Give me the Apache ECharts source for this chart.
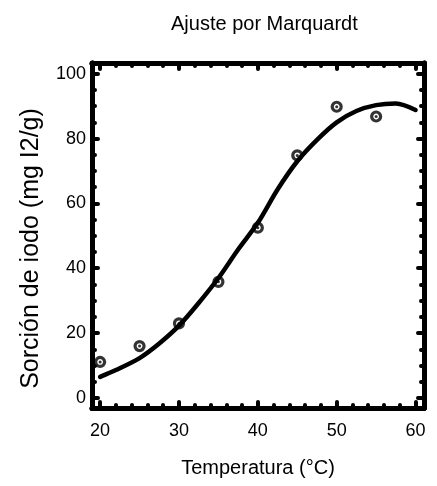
<!DOCTYPE html>
<html>
<head>
<meta charset="utf-8">
<script src="https://cdn.jsdelivr.net/npm/echarts@6/dist/echarts.min.js"></script>
<style>html,body{margin:0;padding:0;background:#fff;}#c{width:437px;height:486px;}</style>
</head>
<body>
<div id="c"></div>
<script>
const xMajorTicks = [20, 30, 40, 50, 60];
const xMinorTicks = [22, 24, 26, 28, 32, 34, 36, 38, 42, 44, 46, 48, 52, 54, 56, 58];
const yMajorTicks = [0, 20, 40, 60, 80, 100];
const yMinorTicks = [5, 10, 15, 25, 30, 35, 45, 50, 55, 65, 70, 75, 85, 90, 95];
const tempObs = [20, 25, 30, 35, 40, 45, 50, 55];
const sorcionObs = [11.1, 16.0, 23.0, 35.8, 52.5, 74.8, 89.8, 86.8];
const tempFit = [20, 22, 25, 27.5, 30, 32.5, 35, 37.5, 40, 42.5, 45, 47.5, 50, 52.5, 55, 57.5, 60];
const sorcionFit = [6.5, 8.6, 12.3, 16.8, 22.3, 29.3, 37.0, 45.8, 54.0, 64.3, 73.0, 79.6, 85.0, 88.5, 90.3, 90.8, 88.8];

const FONT = '"Liberation Sans", Arial, sans-serif';
const X_MIN = 18.97, X_MAX = 61.07, Y_MIN = -3.1, Y_MAX = 103.3;

function xAx(pos, ticks, len, labels, name) {
  return {
    type: 'value', position: pos, min: X_MIN, max: X_MAX,
    axisLine: { show: true, onZero: false, lineStyle: { color: '#000', width: 5 } },
    splitLine: { show: false },
    axisTick: { show: true, inside: true, length: len, customValues: ticks,
      lineStyle: { color: '#000', width: 4, cap: 'round' } },
    axisLabel: labels ? { show: true, customValues: xMajorTicks, color: '#000', fontSize: 18,
      fontFamily: FONT, margin: 14 } : { show: false },
    name: name || '', nameLocation: 'middle', nameGap: 50,
    nameTextStyle: { color: '#000', fontSize: 20, fontFamily: FONT }
  };
}
function yAx(pos, ticks, len, labels, name) {
  return {
    type: 'value', position: pos, min: Y_MIN, max: Y_MAX,
    axisLine: { show: true, onZero: false, lineStyle: { color: '#000', width: 5 } },
    splitLine: { show: false },
    axisTick: { show: true, inside: true, length: len, customValues: ticks,
      lineStyle: { color: '#000', width: 4, cap: 'round' } },
    axisLabel: labels ? { show: true, customValues: yMajorTicks, color: '#000', fontSize: 18,
      fontFamily: FONT, margin: 6 } : { show: false },
    name: name || '', nameLocation: 'middle', nameGap: 48, nameRotate: 90,
    nameTextStyle: { color: '#000', fontSize: 25, fontFamily: FONT, padding: [0, 0, 0, -26] }
  };
}

const chart = echarts.init(document.getElementById('c'), null, { renderer: 'canvas' });
chart.setOption({
  backgroundColor: '#fff',
  animation: false,
  title: {
    text: 'Ajuste por Marquardt', left: 166, top: 9,
    textStyle: { color: '#000', fontSize: 20, fontWeight: 'normal', fontFamily: FONT }
  },
  grid: { left: 92, right: 13, top: 63, bottom: 78 },
  xAxis: [
    xAx('bottom', xMajorTicks, 6, true, 'Temperatura (°C)'),
    xAx('bottom', xMinorTicks, 3, false),
    xAx('top', xMajorTicks, 6, false),
    xAx('top', xMinorTicks, 3, false)
  ],
  yAxis: [
    yAx('left', yMajorTicks, 6, true, 'Sorción de iodo (mg I2/g)'),
    yAx('left', yMinorTicks, 3, false),
    yAx('right', yMajorTicks, 6, false),
    yAx('right', yMinorTicks, 3, false)
  ],
  series: [
    {
      type: 'line', xAxisIndex: 0, yAxisIndex: 0,
      data: tempFit.map((t, i) => [t, sorcionFit[i]]),
      showSymbol: false, smooth: 0.3,
      lineStyle: { color: '#000', width: 4.5, cap: 'round', join: 'round' }
    },
    {
      type: 'scatter', xAxisIndex: 0, yAxisIndex: 0,
      data: tempObs.map((t, i) => [t, sorcionObs[i]]),
      symbol: 'circle', symbolSize: 9,
      itemStyle: { color: '#fff', borderColor: '#000', borderWidth: 3.2 }
    },
    {
      type: 'scatter', xAxisIndex: 0, yAxisIndex: 0,
      data: tempObs.map((t, i) => [t, sorcionObs[i]]),
      symbol: 'circle', symbolSize: 3,
      itemStyle: { color: '#000' }
    }
  ]
});
</script>
</body>
</html>
